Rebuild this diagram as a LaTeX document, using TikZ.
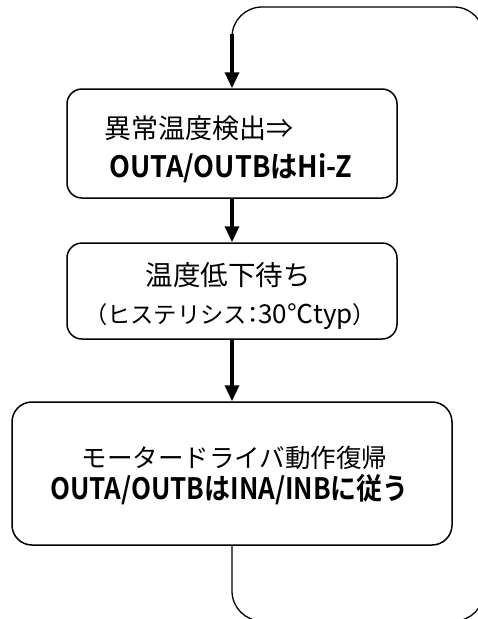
\documentclass[tikz,border=0pt]{standalone}
\usepackage{fontspec}
\setmainfont{Noto Sans CJK JP}[BoldFont={Noto Sans CJK JP Bold}]
\newfontfamily\jpprop{Noto Sans CJK JP}[RawFeature=+palt]
\usetikzlibrary{arrows.meta}
\begin{document}
\begin{tikzpicture}[x=1pt,y=-1pt,
  stepbox/.style={draw,line width=1.5pt,rounded corners=15pt,inner sep=0pt},
  flow/.style={line width=3.4pt,-{Triangle[length=16pt,width=14pt]}},
  loopline/.style={line width=1.3pt,rounded corners=30pt},
  jtext/.style={inner sep=0pt},
  btext/.style={inner sep=0pt,font=\bfseries}]
\useasboundingbox (0,0) rectangle (477,619);
\node[stepbox,minimum width=330pt,minimum height=109pt] (b1) at (232,143.5) {};
\node[stepbox,minimum width=330pt,minimum height=96pt] (b2) at (232,291) {};
\node[stepbox,rounded corners=20pt,minimum width=440pt,minimum height=143pt] (b3) at (232,473.5) {};
\node[jtext,anchor=west,font=\fontsize{27}{27}\selectfont] (t1a) at (104,128) {異常温度検出⇒};
\node[btext] (t1b) at (231,168) {\scalebox{0.92}[1]{\fontsize{29.5}{29.5}\selectfont OUTA/OUTBはHi-Z}};
\node[jtext,font=\fontsize{27.5}{27.5}\selectfont] (t2a) at (228,275) {温度低下待ち};
\node[jtext,font=\fontsize{23.3}{23.3}\selectfont] (t2b) at (230,317) {{\jpprop （}ヒステリシス{\jpprop ：}{\fontsize{26}{26}\selectfont 30℃typ}{\jpprop ）}};
\node[jtext,font=\fontsize{25.5}{25.5}\selectfont] (t3a) at (234.5,458) {モータードライバ動作復帰};
\node[btext] (t3b) at (229.5,490) {\scalebox{0.88}[1]{\fontsize{29.5}{29.5}\selectfont OUTA/OUTBはINA/INBに従う}};
\coordinate (c1) at (232,621);
\coordinate (c2) at (484,621);
\coordinate (c3) at (484,7);
\coordinate (c4) at (232,7);
\coordinate (c5) at (232,34);
\draw[loopline] (b3.south) -- (c1) -- (c2) -- (c3) -- (c4) -- (c5);
\draw[flow] (c5) -- (b1.north);
\draw[flow] (b1.south) -- (b2.north);
\draw[flow] (b2.south) -- (b3.north);
\end{tikzpicture}
\end{document}
